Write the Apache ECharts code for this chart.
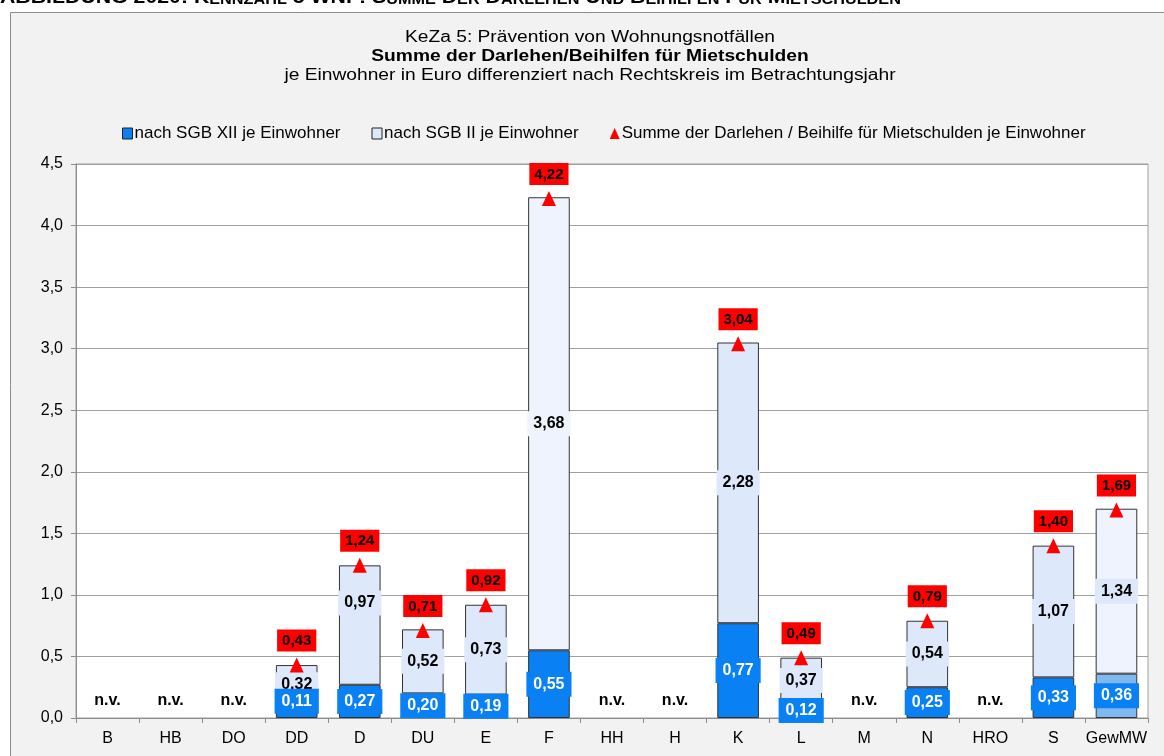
<!DOCTYPE html>
<html><head><meta charset="utf-8">
<script src="https://cdn.jsdelivr.net/npm/echarts@6/dist/echarts.min.js"></script>
<style>html,body{margin:0;padding:0;background:#fff}#c{width:1164px;height:756px}</style>
</head><body><div id="c"></div>
<script>
const categories = ['B','HB','DO','DD','D','DU','E','F','HH','H','K','L','M','N','HRO','S','GewMW'];
const sgb12 = [null,null,null,0.11,0.27,0.20,0.19,0.55,null,null,0.77,0.12,null,0.25,null,0.33,0.36];
const sgb2  = [null,null,null,0.32,0.97,0.52,0.73,3.68,null,null,2.28,0.37,null,0.54,null,1.07,1.34];
const sums  = [null,null,null,0.43,1.24,0.71,0.92,4.22,null,null,3.04,0.49,null,0.79,null,1.40,1.69];
const yTicks = [0,0.5,1,1.5,2,2.5,3,3.5,4,4.5];

const FONT = 'Liberation Sans, Arial, sans-serif';
const fmt = v => v.toFixed(2).replace('.', ',');
const BLUE = '#0a80f5', LIGHT = '#dde8fa', PALE = '#eef3fd';

const d12 = sgb12.map((v,i) => {
  if (v === null) return '-';
  const o = {value: v};
  if (categories[i] === 'GewMW') o.itemStyle = {color: '#80b8f2'};
  if (categories[i] === 'DD') o.label = {offset: [0, -10]};
  return o;
});
const d2 = sgb2.map((v,i) => {
  if (v === null) return '-';
  const o = {value: v};
  if (categories[i] === 'F' || categories[i] === 'GewMW') o.itemStyle = {color: PALE};
  if (categories[i] === 'F') o.label = {backgroundColor: PALE};
  if (categories[i] === 'D') o.label = {offset: [0, -22]};
  return o;
});
const nv = sgb12.map(v => v === null ? 0 : '-');

const B = {fontSize: 19, fontWeight: 'bold', fontFamily: FONT, fill: '#000', verticalAlign: 'bottom', lineHeight: 22};
const S = {fontSize: 14.5, fontWeight: 'bold', fontFamily: FONT, fill: '#000', verticalAlign: 'bottom', lineHeight: 22};
const headParts = [['b','ABBILDUNG 2020: K'],['s','ENNZAHL'],['b',' 5 WNF: S'],['s','UMME'],['b',' D'],['s','ER'],['b',' D'],['s','ARLEHEN'],['b',' U'],['s','ND'],['b',' B'],['s','EIHILFEN'],['b',' F'],['s','ÜR'],['b',' M'],['s','IETSCHULDEN']];
const headText = headParts.map(p => '{' + p[0] + '|' + p[1] + '}').join('');

const titleLine = (txt, y, bold) => ({
  type: 'text', x: 590, y: y, scaleX: 1.2, z: 10,
  style: {text: txt, font: (bold ? 'bold ' : '') + '16px ' + FONT, fill: '#000', align: 'center', verticalAlign: 'middle'}
});

const chart = echarts.init(document.getElementById('c'), null, {renderer: 'canvas'});
chart.setOption({
  backgroundColor: '#ffffff',
  textStyle: {fontFamily: FONT},
  graphic: [
    {type: 'text', x: 0, y: -15, scaleX: 1.12, z: 10, style: {text: headText, rich: {b: B, s: S}}},
    {type: 'rect', shape: {x: 10.5, y: 12.5, width: 1170, height: 760}, style: {fill: '#f2f2f2', stroke: '#8c8c8c', lineWidth: 1}, z: -10},
    titleLine('KeZa 5: Prävention von Wohnungsnotfällen', 38, false),
    titleLine('Summe der Darlehen/Beihilfen für Mietschulden', 57, true),
    titleLine('je Einwohner in Euro differenziert nach Rechtskreis im Betrachtungsjahr', 76, false)
  ],
  legend: {
    top: 120, left: 117, itemWidth: 10, itemHeight: 11, itemGap: 31,
    textStyle: {fontSize: 17, color: '#000', padding: [0,0,0,-3]},
    data: [
      {name: 'nach SGB XII je Einwohner', icon: 'rect', itemStyle: {color: BLUE, borderColor: '#222', borderWidth: 1}},
      {name: 'nach SGB II je Einwohner', icon: 'rect', itemStyle: {color: LIGHT, borderColor: '#222', borderWidth: 1}},
      {name: 'Summe der Darlehen / Beihilfe für Mietschulden je Einwohner', icon: 'triangle', itemStyle: {color: '#ff0000', opacity: 1}}
    ]
  },
  grid: {left: 76, right: 16, top: 164, bottom: 38, show: true, backgroundColor: '#ffffff', borderColor: '#a0a0a0', borderWidth: 1},
  xAxis: {
    type: 'category', data: categories,
    axisLine: {lineStyle: {color: '#8c8c8c'}},
    axisTick: {show: true, length: 5, lineStyle: {color: '#8c8c8c'}},
    axisLabel: {color: '#000', fontSize: 16, margin: 13, interval: 0}
  },
  yAxis: {
    type: 'value', min: yTicks[0], max: yTicks[yTicks.length - 1], interval: yTicks[1] - yTicks[0],
    axisLine: {show: true, lineStyle: {color: '#8c8c8c'}},
    axisTick: {show: true, length: 5, lineStyle: {color: '#8c8c8c'}},
    axisLabel: {color: '#000', fontSize: 16, margin: 13, formatter: v => v.toFixed(1).replace('.', ',')},
    splitLine: {lineStyle: {color: '#a0a0a0'}}
  },
  series: [
    {
      name: 'nach SGB XII je Einwohner', type: 'bar', stack: 'a', barWidth: '66%', data: d12,
      itemStyle: {color: BLUE, borderColor: '#333', borderWidth: 1},
      label: {show: true, position: 'inside', formatter: p => fmt(p.value), color: '#fff', fontWeight: 'bold', fontSize: 16, backgroundColor: BLUE, padding: [5,7,4,7]},
      z: 3
    },
    {
      name: 'nach SGB II je Einwohner', type: 'bar', stack: 'a', barWidth: '66%', data: d2,
      itemStyle: {color: LIGHT, borderColor: '#333', borderWidth: 1},
      label: {show: true, position: 'inside', formatter: p => fmt(p.value), color: '#000', fontWeight: 'bold', fontSize: 16, backgroundColor: LIGHT, padding: [5,6,4,6]},
      z: 2
    },
    {
      name: 'nv', type: 'bar', barGap: '-100%', barWidth: '66%', data: nv, silent: true,
      itemStyle: {color: 'transparent'},
      label: {show: true, position: 'top', formatter: 'n.v.', color: '#000', fontWeight: 'bold', fontSize: 16, offset: [0, -4]}
    },
    {
      name: 'Summe der Darlehen / Beihilfe für Mietschulden je Einwohner', type: 'scatter', data: sums,
      symbol: 'triangle', symbolSize: [14, 15], itemStyle: {color: '#ff0000', opacity: 1},
      label: {show: true, position: 'top', distance: 6, formatter: p => fmt(p.value), color: '#000', fontWeight: 'bold', fontSize: 15, backgroundColor: '#ff0000', padding: [4,5,3,5]},
      z: 5
    }
  ]
});
</script></body></html>
